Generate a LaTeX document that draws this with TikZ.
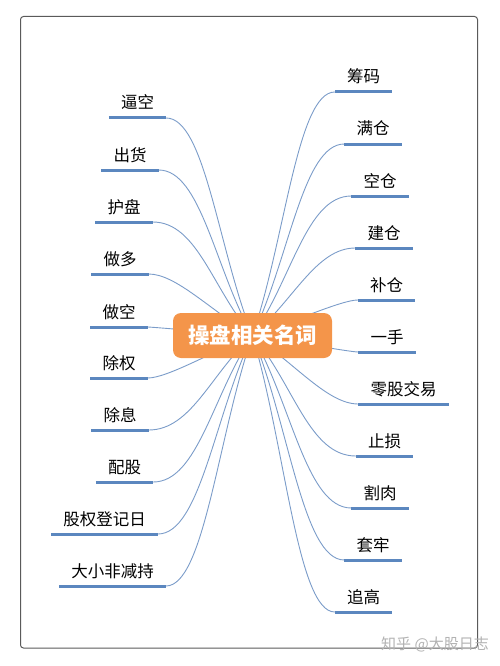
\documentclass[tikz,border=0pt]{standalone}
\usepackage{fontspec}
\newfontfamily\cjk{Noto Sans CJK SC}
\usetikzlibrary{calc,backgrounds}
\definecolor{lineblue}{HTML}{7B9CC9}
\definecolor{ulblue}{HTML}{5B87BF}
\definecolor{topicorange}{HTML}{F4954A}
\definecolor{framegray}{HTML}{5A5A5A}
\tikzset{
  leaftext/.style={font={\cjk\fontsize{16.5}{18}\selectfont}, inner xsep=12pt, inner ysep=0pt, anchor=base, text=black},
  uline/.style={draw=ulblue, line width=3pt},
  curveline/.style={draw=lineblue, line width=0.9pt},
  topic/.style={fill=topicorange, rounded corners=8pt, minimum width=159pt, minimum height=45pt, text=white, font={\cjk\bfseries\fontsize{21.5}{24}\selectfont}, inner sep=0pt},
  framebox/.style={draw=framegray, line width=1pt, rounded corners=3pt},
  wm/.style={text=black!30, font={\cjk\fontsize{15}{16}\selectfont}, inner sep=0pt}
}
% left leaf: name, center x, underline y, text, handle
\newcommand\leftleaf[5]{%
  \node[leaftext] (#1) at (#2,#3-9) {#4};
  \coordinate (#1e) at ($(#1.base east)+(0,9)$);
  \draw[uline] ($(#1.base west)+(0,9)$) -- (#1e);
  \begin{pgfonlayer}{background}
    \draw[curveline] (topic.center) .. controls ($(topic.center)!0.4!(#1e)$) and ($(#1e)+(#5,0)$) .. (#1e);
  \end{pgfonlayer}}
% right leaf
\newcommand\rightleaf[5]{%
  \node[leaftext] (#1) at (#2,#3-9) {#4};
  \coordinate (#1e) at ($(#1.base west)+(0,9)$);
  \draw[uline] (#1e) -- ($(#1.base east)+(0,9)$);
  \begin{pgfonlayer}{background}
    \draw[curveline] (topic.center) .. controls ($(topic.center)!0.4!(#1e)$) and ($(#1e)+(-#5,0)$) .. (#1e);
  \end{pgfonlayer}}
\begin{document}
\begin{tikzpicture}[x=1pt,y=-1pt]
\useasboundingbox (0,0) rectangle (500,666);
\draw[framebox] (20.5,16.5) rectangle (477.5,648);
\node[topic] (topic) at (252.5,335.5) {操盘相关名词};
% left side
\leftleaf{l1}{137.5}{118}{逼空}{38.7}
\leftleaf{l2}{130}{170}{出货}{42.3}
\leftleaf{l3}{124}{222}{护盘}{45}
\leftleaf{l4}{120}{274}{做多}{27.5}
\leftleaf{l5}{119}{327}{做空}{3.6}
\leftleaf{l6}{119}{378}{除权}{19.4}
\leftleaf{l7}{120}{430}{除息}{42.75}
\leftleaf{l8}{124.5}{482}{配股}{44.6}
\leftleaf{l9}{104.5}{534}{股权登记日}{42.3}
\leftleaf{l10}{112.5}{586}{大小非减持}{38.25}
% right side
\rightleaf{r1}{363.5}{92}{筹码}{37.4}
\rightleaf{r2}{373}{144}{满仓}{41.4}
\rightleaf{r3}{380}{196}{空仓}{45}
\rightleaf{r4}{384}{248}{建仓}{39.2}
\rightleaf{r5}{386.5}{300}{补仓}{15.75}
\rightleaf{r6}{387}{352}{一手}{7.65}
\rightleaf{r7}{403.5}{404}{零股交易}{31}
\rightleaf{r8}{384.5}{456}{止损}{46.8}
\rightleaf{r9}{380}{508}{割肉}{45}
\rightleaf{r10}{373}{560}{套牢}{41.4}
\rightleaf{r11}{363.5}{612}{追高}{37.4}
\node[wm] (wmark) at (435,644) {知乎 @大股日志};
\end{tikzpicture}
\end{document}
